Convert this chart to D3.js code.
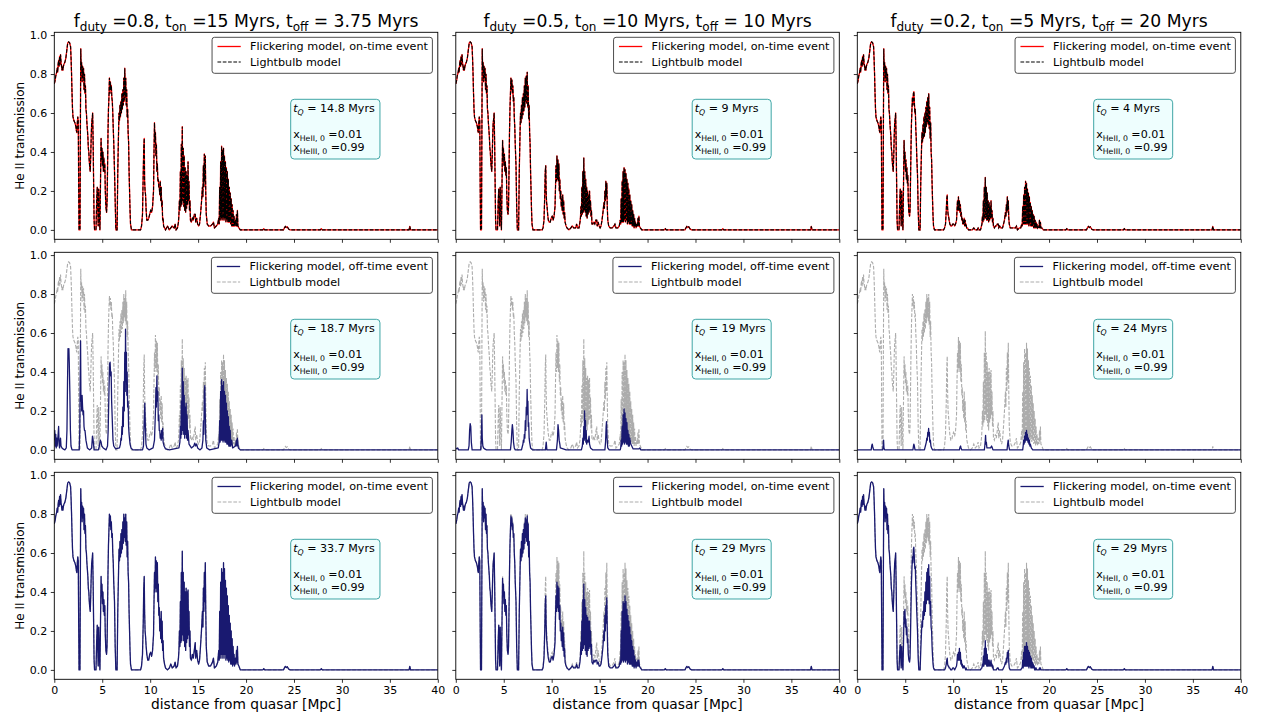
<!DOCTYPE html>
<html><head><meta charset="utf-8">
<script src="https://cdn.jsdelivr.net/npm/d3@7"></script>
<style>body{margin:0;background:#fff} svg{display:block} text{font-family:"DejaVu Sans",sans-serif}</style>
</head><body><svg id="chart" width="1262" height="717"></svg>
<script>
// ---------------- data ----------------
const distanceTicks = [0,5,10,15,20,25,30,35,40];
const transmissionTicks = [0,0.2,0.4,0.6,0.8,1.0];
const dutyValues = ["0.8","0.5","0.2"];
const onTimes = ["15","10","5"];
const offTimes = ["3.75","10","20"];
const tQRow1 = ["14.8","9","4"];
const tQRow2 = ["18.7","19","24"];
const tQRow3 = ["33.7","29","29"];
const xHeII0 = "0.01", xHeIII0 = "0.99";

// shared near-zone segment (0 - 4.2 Mpc)
const nearShared = [[0,0.75],[0.05,0.76],[0.1,0.77],[0.15,0.79],[0.2,0.8],[0.25,0.81],[0.3,0.83],[0.35,0.81],[0.4,0.85],[0.45,0.87],[0.5,0.84],[0.55,0.89],[0.6,0.85],[0.65,0.9],[0.7,0.86],[0.75,0.84],[0.8,0.82],[0.85,0.84],[0.9,0.82],[0.95,0.84],[1.0,0.85],[1.1,0.86],[1.2,0.88],[1.3,0.92],[1.4,0.96],[1.5,0.965],[1.6,0.96],[1.7,0.94],[1.75,0.88],[1.8,0.8],[1.85,0.7],[1.9,0.62],[1.95,0.58],[2.05,0.56],[2.15,0.55],[2.25,0.53],[2.3,0.51],[2.35,0.5],[2.4,0.55],[2.45,0.58],[2.5,0.56],[2.55,0.2],[2.58,0],[2.68,0],[2.72,0.5],[2.76,0.93],[2.8,0.82],[2.85,0.86],[2.9,0.76],[2.95,0.84],[3.0,0.78],[3.05,0.83],[3.1,0.72],[3.15,0.8],[3.2,0.7],[3.25,0.74],[3.3,0.62],[3.35,0.6],[3.4,0.55],[3.5,0.48],[3.55,0.42],[3.6,0.4],[3.65,0.35],[3.7,0.32],[3.75,0.3],[3.8,0.38],[3.85,0.48],[3.9,0.55],[3.95,0.57],[4.0,0.6],[4.05,0.45],[4.1,0.25],[4.15,0.05],[4.2,0]];

// far-zone segment (19.4 - 40 Mpc)
const tailShared = [[19.4,0],[21.75,0],[21.85,0.006],[21.95,0],[23.9,0],[24.0,0.01],[24.1,0.018],[24.2,0.012],[24.3,0.016],[24.45,0.004],[24.6,0],[27.75,0],[27.85,0.006],[27.95,0],[37.0,0],[37.08,0.018],[37.16,0],[40,0]];

// distances of the middle zone (4.2 - 19.4 Mpc)
const midX = [
4.2,4.35,4.42,4.48,4.54,4.58,4.63,4.7,4.76,4.82,
4.88,4.92,4.97,5.02,5.07,5.12,5.17,5.22,5.27,5.32,
5.38,5.45,5.5,5.55,5.6,5.65,5.7,5.75,5.8,5.85,
5.9,5.95,6.0,6.05,6.1,6.15,6.2,6.28,6.35,6.42,
6.55,6.62,6.7,6.75,6.8,6.85,6.9,6.95,7.0,7.05,
7.1,7.15,7.2,7.25,7.3,7.35,7.4,7.45,7.5,7.55,
7.6,7.65,7.7,7.75,7.8,7.85,7.9,7.95,8.05,9.0,
9.1,9.2,9.28,9.33,9.38,9.42,9.47,9.52,9.58,9.65,
9.75,9.85,9.95,10.05,10.15,10.25,10.35,10.4,10.45,10.5,
10.55,10.6,10.65,10.7,10.75,10.8,10.85,10.9,10.95,11.0,
11.05,11.1,11.15,11.2,11.25,11.3,11.35,11.4,11.5,11.6,
11.8,12.0,12.15,12.3,12.5,12.6,12.7,12.85,12.95,13.0,
13.05,13.1,13.15,13.2,13.25,13.3,13.35,13.4,13.45,13.5,
13.55,13.6,13.65,13.7,13.75,13.8,13.85,13.9,13.95,14.0,
14.05,14.1,14.15,14.2,14.3,14.4,14.5,14.6,14.7,14.75,
14.85,14.95,15.05,15.15,15.25,15.35,15.45,15.5,15.55,15.6,
15.65,15.7,15.75,15.8,15.85,15.95,16.1,16.3,16.5,16.6,
16.7,16.9,17.05,17.15,17.2,17.25,17.3,17.35,17.4,17.45,
17.5,17.55,17.6,17.65,17.7,17.75,17.8,17.85,17.9,17.95,
18.0,18.05,18.1,18.15,18.2,18.25,18.3,18.35,18.4,18.45,
18.5,18.55,18.6,18.65,18.7,18.75,18.8,18.9,18.95,19.0,
19.05,19.1,19.15,19.25,19.4];

// lightbulb, t_Q = 14.8 Myr
const lb148Y = [
0,0,0.15,0.22,0.1,0.02,0.21,0.08,0,0.25,
0.47,0.36,0.42,0.33,0.4,0.3,0.37,0.3,0.34,0.2,
0.12,0.09,0.14,0.3,0.5,0.62,0.68,0.78,0.7,0.76,
0.72,0.74,0.68,0.66,0.6,0.52,0.45,0.3,0.15,0,
0,0.3,0.5,0.6,0.56,0.64,0.58,0.66,0.6,0.7,
0.62,0.72,0.64,0.78,0.66,0.83,0.68,0.78,0.64,0.72,
0.58,0.62,0.5,0.45,0.3,0.2,0.1,0.03,0,0,
0.02,0.08,0.3,0.42,0.47,0.25,0.2,0.18,0.1,0.05,
0.05,0.06,0.08,0.1,0.09,0.12,0.2,0.4,0.55,0.45,
0.5,0.38,0.44,0.3,0.34,0.25,0.26,0.22,0.22,0.18,
0.25,0.15,0.22,0.12,0.15,0.05,0.06,0.02,0.01,0,
0.02,0,0.01,0.02,0.01,0.03,0,0.01,0.04,0.08,
0.15,0.1,0.3,0.12,0.44,0.13,0.53,0.15,0.42,0.12,
0.38,0.1,0.32,0.09,0.3,0.11,0.28,0.13,0.35,0.15,
0.25,0.1,0.15,0.05,0.04,0.06,0.05,0.08,0.08,0.04,
0.06,0.03,0.02,0.03,0.08,0.14,0.22,0.17,0.33,0.22,
0.39,0.25,0.38,0.18,0.08,0.03,0.02,0.02,0.03,0.04,
0.01,0.02,0.03,0.06,0.03,0.22,0.05,0.35,0.06,0.43,
0.05,0.41,0.06,0.42,0.05,0.38,0.06,0.35,0.04,0.32,
0.05,0.3,0.04,0.26,0.04,0.22,0.04,0.19,0.03,0.16,
0.02,0.13,0.02,0.1,0.02,0.07,0.02,0.05,0.02,0.08,
0.02,0.1,0.02,0.01,0];

// lightbulb, t_Q = 9 Myr
const lb9Y = [
0,0,0.14,0.21,0.09,0.02,0.22,0.08,0,0.24,
0.46,0.36,0.42,0.33,0.39,0.3,0.35,0.28,0.32,0.18,
0.1,0.08,0.12,0.3,0.5,0.62,0.7,0.78,0.72,0.77,
0.7,0.74,0.66,0.68,0.58,0.53,0.44,0.33,0.12,0,
0,0.3,0.5,0.6,0.55,0.64,0.57,0.68,0.59,0.7,
0.61,0.74,0.63,0.78,0.66,0.79,0.65,0.81,0.63,0.74,
0.57,0.64,0.5,0.44,0.3,0.2,0.1,0.03,0,0,
0.01,0.05,0.18,0.3,0.33,0.2,0.14,0.12,0.08,0.05,
0.04,0.04,0.06,0.07,0.05,0.07,0.12,0.22,0.33,0.25,
0.38,0.26,0.36,0.25,0.34,0.2,0.26,0.16,0.2,0.12,
0.16,0.1,0.18,0.08,0.15,0.06,0.09,0.04,0.02,0.01,
0,0.01,0.02,0.01,0.01,0.03,0.01,0.01,0.04,0.06,
0.12,0.07,0.22,0.08,0.3,0.09,0.37,0.1,0.3,0.09,
0.26,0.07,0.22,0.06,0.2,0.08,0.18,0.09,0.2,0.1,
0.15,0.07,0.1,0.03,0.03,0.04,0.03,0.05,0.05,0.02,
0.04,0.02,0.01,0.02,0.05,0.09,0.14,0.11,0.2,0.15,
0.25,0.17,0.24,0.12,0.05,0.02,0.01,0.01,0.02,0.03,
0.01,0.01,0.02,0.05,0.03,0.16,0.04,0.25,0.04,0.3,
0.04,0.32,0.05,0.31,0.04,0.29,0.05,0.26,0.03,0.24,
0.04,0.21,0.03,0.18,0.03,0.15,0.03,0.13,0.02,0.1,
0.02,0.08,0.01,0.06,0.02,0.04,0.01,0.03,0.02,0.06,
0.02,0.07,0.02,0.01,0];

// lightbulb, t_Q = 4 Myr
const lb4Y = [
0,0,0.14,0.21,0.09,0.02,0.2,0.07,0,0.23,
0.46,0.35,0.4,0.3,0.36,0.26,0.32,0.24,0.28,0.15,
0.09,0.07,0.1,0.25,0.42,0.55,0.62,0.68,0.64,0.7,
0.71,0.66,0.6,0.62,0.52,0.47,0.38,0.28,0.1,0,
0,0.25,0.42,0.5,0.45,0.54,0.47,0.58,0.48,0.6,
0.5,0.63,0.53,0.66,0.55,0.68,0.54,0.7,0.52,0.63,
0.47,0.55,0.4,0.36,0.24,0.15,0.07,0.02,0,0,
0.01,0.03,0.1,0.16,0.18,0.11,0.08,0.07,0.05,0.03,
0.02,0.02,0.03,0.03,0.02,0.03,0.05,0.1,0.15,0.1,
0.17,0.1,0.15,0.09,0.13,0.07,0.09,0.05,0.06,0.03,
0.05,0.03,0.06,0.02,0.05,0.02,0.03,0.01,0.01,0,
0,0,0.01,0,0,0.01,0,0,0.02,0.03,
0.07,0.04,0.15,0.05,0.22,0.06,0.27,0.06,0.22,0.05,
0.19,0.05,0.15,0.04,0.14,0.05,0.12,0.06,0.15,0.06,
0.1,0.04,0.06,0.02,0.01,0.02,0.02,0.03,0.03,0.01,
0.02,0.01,0.01,0.01,0.03,0.05,0.09,0.07,0.13,0.09,
0.17,0.1,0.15,0.06,0.03,0.01,0.01,0.01,0.01,0.02,
0,0.01,0.01,0.03,0.02,0.12,0.03,0.18,0.03,0.22,
0.03,0.25,0.03,0.24,0.03,0.21,0.03,0.19,0.02,0.17,
0.03,0.14,0.02,0.12,0.02,0.1,0.02,0.08,0.01,0.07,
0.01,0.05,0.01,0.04,0.01,0.03,0.01,0.02,0.01,0.05,
0.01,0.04,0.01,0.01,0];

// lightbulb, t_Q ~ 19 Myr
const lb19Y = [
0,0,0.15,0.23,0.1,0.02,0.22,0.08,0,0.25,
0.48,0.38,0.44,0.34,0.4,0.3,0.36,0.28,0.33,0.18,
0.1,0.08,0.12,0.3,0.5,0.64,0.72,0.79,0.74,0.78,
0.72,0.76,0.68,0.7,0.6,0.55,0.45,0.35,0.12,0,
0,0.3,0.5,0.62,0.56,0.66,0.58,0.7,0.6,0.72,
0.62,0.76,0.65,0.8,0.68,0.78,0.66,0.82,0.64,0.76,
0.58,0.66,0.5,0.45,0.3,0.2,0.1,0.03,0,0,
0.02,0.08,0.25,0.42,0.49,0.3,0.2,0.17,0.12,0.08,
0.05,0.05,0.08,0.09,0.07,0.1,0.18,0.35,0.5,0.4,
0.59,0.42,0.56,0.4,0.55,0.35,0.44,0.28,0.32,0.2,
0.26,0.16,0.28,0.14,0.24,0.1,0.14,0.06,0.03,0.01,
0,0.01,0.03,0.01,0.02,0.04,0.01,0.02,0.05,0.09,
0.18,0.12,0.33,0.14,0.46,0.15,0.57,0.17,0.47,0.14,
0.42,0.12,0.37,0.1,0.38,0.13,0.36,0.15,0.37,0.16,
0.27,0.11,0.18,0.06,0.05,0.07,0.05,0.09,0.12,0.05,
0.08,0.04,0.03,0.04,0.1,0.17,0.25,0.2,0.35,0.26,
0.42,0.3,0.45,0.25,0.1,0.03,0.02,0.02,0.03,0.05,
0.01,0.02,0.03,0.08,0.04,0.26,0.05,0.4,0.07,0.46,
0.05,0.45,0.07,0.49,0.05,0.46,0.07,0.41,0.04,0.37,
0.05,0.34,0.04,0.3,0.04,0.25,0.04,0.21,0.03,0.18,
0.03,0.14,0.02,0.11,0.03,0.07,0.02,0.05,0.03,0.09,
0.03,0.11,0.03,0.02,0];

// lightbulb, long t_Q (24 - 34 Myr)
const lbLongY = [
0,0,0.15,0.23,0.1,0.02,0.22,0.08,0,0.25,
0.48,0.38,0.44,0.34,0.4,0.3,0.36,0.28,0.33,0.18,
0.1,0.08,0.12,0.3,0.5,0.64,0.72,0.8,0.74,0.79,
0.72,0.76,0.68,0.7,0.6,0.55,0.45,0.35,0.12,0,
0,0.3,0.5,0.62,0.56,0.66,0.58,0.7,0.6,0.72,
0.62,0.76,0.65,0.8,0.68,0.78,0.66,0.8,0.64,0.76,
0.58,0.66,0.5,0.45,0.3,0.2,0.1,0.03,0,0,
0.02,0.08,0.25,0.42,0.48,0.3,0.2,0.17,0.12,0.08,
0.05,0.05,0.08,0.09,0.07,0.1,0.18,0.35,0.5,0.4,
0.58,0.42,0.56,0.4,0.55,0.35,0.44,0.28,0.32,0.2,
0.26,0.16,0.3,0.14,0.25,0.1,0.15,0.06,0.03,0.01,
0,0.01,0.03,0.01,0.02,0.04,0.01,0.02,0.06,0.1,
0.2,0.12,0.35,0.14,0.5,0.15,0.61,0.18,0.5,0.15,
0.45,0.12,0.4,0.1,0.42,0.14,0.4,0.16,0.41,0.18,
0.3,0.12,0.2,0.06,0.05,0.08,0.06,0.1,0.14,0.06,
0.1,0.05,0.03,0.05,0.12,0.2,0.3,0.22,0.42,0.3,
0.5,0.35,0.55,0.3,0.12,0.04,0.02,0.02,0.04,0.06,
0.01,0.02,0.04,0.1,0.05,0.3,0.06,0.45,0.08,0.52,
0.06,0.5,0.08,0.55,0.06,0.52,0.08,0.46,0.05,0.42,
0.06,0.38,0.05,0.33,0.04,0.28,0.05,0.24,0.03,0.2,
0.03,0.16,0.02,0.12,0.03,0.08,0.02,0.06,0.03,0.1,
0.04,0.12,0.03,0.02,0];

// flickering on-time, f_duty = 0.5, t_Q = 29 Myr
const onBY = [
0,0,0.15,0.23,0.1,0.02,0.22,0.08,0,0.25,
0.47,0.38,0.44,0.34,0.4,0.3,0.36,0.28,0.33,0.18,
0.1,0.08,0.12,0.3,0.5,0.64,0.72,0.79,0.74,0.78,
0.72,0.75,0.68,0.7,0.6,0.55,0.45,0.35,0.12,0,
0,0.3,0.5,0.62,0.56,0.66,0.58,0.7,0.6,0.72,
0.62,0.75,0.65,0.78,0.68,0.77,0.66,0.79,0.64,0.75,
0.58,0.66,0.5,0.45,0.3,0.2,0.1,0.03,0,0,
0.01,0.06,0.2,0.34,0.38,0.24,0.16,0.13,0.09,0.06,
0.04,0.04,0.06,0.07,0.05,0.08,0.14,0.27,0.38,0.3,
0.45,0.32,0.43,0.3,0.42,0.26,0.33,0.2,0.24,0.15,
0.2,0.12,0.22,0.1,0.19,0.07,0.11,0.04,0.02,0.01,
0,0.01,0.02,0.01,0.01,0.03,0.01,0.01,0.04,0.07,
0.14,0.08,0.25,0.1,0.36,0.11,0.44,0.13,0.36,0.1,
0.32,0.08,0.28,0.07,0.27,0.1,0.25,0.11,0.25,0.12,
0.2,0.08,0.13,0.04,0.03,0.05,0.04,0.05,0.05,0.03,
0.04,0.02,0.02,0.03,0.07,0.12,0.2,0.15,0.28,0.2,
0.33,0.24,0.37,0.2,0.08,0.02,0.01,0.01,0.02,0.03,
0.01,0.01,0.02,0.05,0.03,0.2,0.04,0.3,0.05,0.35,
0.04,0.34,0.05,0.38,0.04,0.35,0.05,0.31,0.03,0.28,
0.04,0.25,0.03,0.22,0.03,0.18,0.03,0.15,0.02,0.12,
0.02,0.1,0.01,0.07,0.02,0.05,0.01,0.04,0.02,0.05,
0.02,0.05,0.02,0.01,0];

// flickering on-time, f_duty = 0.2, t_Q = 29 Myr
const onCY = [
0,0,0.09,0.13,0.06,0.01,0.12,0.04,0,0.14,
0.3,0.24,0.31,0.22,0.26,0.18,0.22,0.14,0.16,0.08,
0.05,0.04,0.06,0.18,0.32,0.45,0.52,0.58,0.55,0.62,
0.63,0.58,0.52,0.53,0.44,0.38,0.3,0.2,0.06,0,
0,0.1,0.2,0.25,0.22,0.3,0.26,0.35,0.28,0.4,
0.3,0.45,0.34,0.5,0.36,0.52,0.36,0.54,0.34,0.48,
0.28,0.35,0.22,0.2,0.12,0.07,0.03,0.01,0,0,
0,0.01,0.03,0.05,0.06,0.03,0.02,0.02,0.01,0.01,
0,0,0.01,0.01,0,0.01,0.02,0.04,0.08,0.05,
0.09,0.05,0.11,0.05,0.09,0.03,0.05,0.02,0.03,0.01,
0.02,0.01,0.02,0.01,0.01,0,0.01,0,0,0,
0,0,0,0,0,0,0,0,0.01,0.01,
0.03,0.02,0.07,0.02,0.11,0.03,0.15,0.03,0.11,0.02,
0.08,0.02,0.05,0.02,0.05,0.02,0.04,0.02,0.05,0.02,
0.03,0.01,0.02,0,0,0,0,0.01,0.01,0,
0,0,0,0,0.01,0.02,0.04,0.03,0.06,0.04,
0.09,0.06,0.1,0.04,0.01,0,0,0,0,0,
0,0,0,0.01,0.01,0.05,0.01,0.09,0.02,0.12,
0.02,0.12,0.02,0.14,0.02,0.12,0.02,0.1,0.01,0.09,
0.02,0.07,0.01,0.06,0.01,0.04,0.01,0.03,0.01,0.02,
0,0.01,0,0.01,0,0,0,0,0,0.01,
0,0.01,0,0,0];

// flickering off-time events (row 2)
const offA = [[0,0.05],[0.05,0.1],[0.1,0.02],[0.15,0.08],[0.2,0.01],[0.25,0.06],[0.3,0.02],[0.35,0.05],[0.4,0.08],[0.45,0.12],[0.5,0.03],[0.55,0.01],[0.6,0.04],[0.65,0.06],[0.7,0.02],[0.8,0.01],[0.9,0.005],[1.1,0],[1.25,0.01],[1.32,0.1],[1.38,0.35],[1.43,0.52],[1.48,0.5],[1.52,0.52],[1.56,0.45],[1.62,0.3],[1.68,0.1],[1.74,0.02],[1.85,0],[2.6,0],[2.66,0.1],[2.7,0.35],[2.74,0.56],[2.78,0.25],[2.82,0.28],[2.86,0.2],[2.9,0.28],[2.95,0.22],[3.0,0.18],[3.05,0.2],[3.1,0.12],[3.15,0.1],[3.2,0.1],[3.3,0.05],[3.45,0.01],[3.7,0],[3.9,0.01],[3.98,0.07],[4.05,0.05],[4.15,0],[4.6,0],[4.7,0.02],[4.8,0.05],[4.88,0.04],[4.95,0.02],[5.1,0.01],[5.4,0],[5.55,0.02],[5.62,0.1],[5.7,0.3],[5.76,0.44],[5.82,0.45],[5.88,0.38],[5.93,0.4],[5.98,0.25],[6.05,0.15],[6.12,0.05],[6.2,0.02],[6.4,0.005],[6.8,0.01],[6.9,0.03],[6.95,0.06],[7.0,0.05],[7.05,0.12],[7.1,0.08],[7.15,0.22],[7.2,0.12],[7.25,0.35],[7.3,0.2],[7.35,0.5],[7.4,0.3],[7.43,0.62],[7.48,0.35],[7.52,0.5],[7.56,0.28],[7.6,0.4],[7.65,0.22],[7.7,0.25],[7.75,0.12],[7.8,0.08],[7.9,0.03],[8.0,0.01],[8.2,0],[9.2,0],[9.3,0.02],[9.38,0.15],[9.44,0.24],[9.5,0.12],[9.56,0.03],[9.65,0.01],[9.9,0],[10.3,0.01],[10.45,0.05],[10.55,0.2],[10.6,0.32],[10.65,0.22],[10.7,0.38],[10.75,0.25],[10.8,0.3],[10.85,0.15],[10.9,0.18],[10.95,0.1],[11.0,0.1],[11.05,0.06],[11.1,0.08],[11.15,0.05],[11.2,0.1],[11.25,0.06],[11.3,0.11],[11.35,0.04],[11.45,0.02],[11.6,0.005],[12.0,0],[13.0,0.01],[13.1,0.04],[13.15,0.12],[13.2,0.06],[13.25,0.25],[13.3,0.08],[13.35,0.42],[13.4,0.1],[13.45,0.35],[13.5,0.08],[13.55,0.28],[13.6,0.06],[13.65,0.22],[13.7,0.08],[13.75,0.24],[13.8,0.06],[13.85,0.18],[13.9,0.05],[13.95,0.1],[14.05,0.03],[14.3,0.01],[14.55,0.02],[14.65,0.035],[14.75,0.02],[14.85,0.03],[14.95,0.01],[15.2,0],[15.4,0.01],[15.5,0.05],[15.55,0.15],[15.6,0.08],[15.65,0.3],[15.7,0.33],[15.75,0.18],[15.8,0.05],[15.9,0.01],[16.2,0],[17.1,0.01],[17.2,0.04],[17.25,0.15],[17.3,0.04],[17.35,0.3],[17.4,0.05],[17.45,0.36],[17.5,0.05],[17.55,0.33],[17.6,0.04],[17.65,0.35],[17.7,0.05],[17.75,0.3],[17.8,0.04],[17.85,0.28],[17.9,0.04],[17.95,0.24],[18.0,0.03],[18.05,0.2],[18.1,0.03],[18.15,0.17],[18.2,0.02],[18.25,0.12],[18.3,0.02],[18.35,0.1],[18.4,0.02],[18.5,0.05],[18.6,0.01],[18.9,0.02],[19.0,0.05],[19.05,0.02],[19.1,0.06],[19.2,0.01],[19.4,0],[40,0]];

const offB = [[0,0.01],[0.1,0.005],[0.2,0.01],[0.3,0],[1.3,0],[1.38,0.02],[1.44,0.1],[1.5,0.135],[1.56,0.12],[1.62,0.04],[1.7,0],[2.6,0],[2.66,0.05],[2.72,0.18],[2.76,0.06],[2.82,0.02],[2.9,0.01],[3.0,0.005],[3.2,0],[5.7,0],[5.78,0.04],[5.85,0.1],[5.9,0.13],[5.96,0.1],[6.02,0.04],[6.1,0.01],[6.2,0],[6.85,0],[6.95,0.02],[7.0,0.03],[7.05,0.05],[7.1,0.04],[7.15,0.08],[7.2,0.06],[7.25,0.15],[7.3,0.1],[7.35,0.22],[7.4,0.18],[7.44,0.31],[7.48,0.2],[7.52,0.25],[7.56,0.12],[7.6,0.14],[7.65,0.06],[7.7,0.04],[7.8,0.01],[8.0,0],[9.35,0],[9.43,0.04],[9.5,0],[10.5,0],[10.6,0.05],[10.66,0.13],[10.72,0.1],[10.78,0.05],[10.85,0.03],[10.9,0.01],[11.2,0.005],[11.5,0],[13.1,0],[13.2,0.02],[13.25,0.06],[13.3,0.03],[13.35,0.12],[13.4,0.05],[13.43,0.2],[13.48,0.06],[13.52,0.15],[13.56,0.04],[13.6,0.1],[13.65,0.03],[13.7,0.05],[13.8,0.04],[13.9,0.07],[13.95,0.03],[14.05,0.01],[14.3,0],[15.55,0],[15.62,0.04],[15.68,0.12],[15.72,0.145],[15.78,0.06],[15.85,0.01],[16.0,0],[17.15,0],[17.2,0.01],[17.25,0.05],[17.3,0.02],[17.35,0.12],[17.4,0.03],[17.45,0.18],[17.5,0.04],[17.55,0.21],[17.6,0.03],[17.65,0.19],[17.7,0.04],[17.75,0.16],[17.8,0.03],[17.85,0.14],[17.9,0.03],[17.95,0.1],[18.0,0.02],[18.05,0.08],[18.1,0.02],[18.15,0.06],[18.25,0.03],[18.35,0.02],[18.5,0.005],[19.1,0.005],[19.2,0.01],[19.3,0],[40,0]];

const offC = [[0,0],[1.45,0],[1.5,0.02],[1.56,0.03],[1.62,0.015],[1.7,0],[2.65,0],[2.7,0.02],[2.74,0.05],[2.78,0.01],[2.85,0],[5.8,0],[5.86,0.02],[5.9,0.03],[5.95,0.02],[6.02,0],[7.0,0],[7.05,0.01],[7.1,0.02],[7.15,0.03],[7.2,0.04],[7.25,0.06],[7.3,0.05],[7.35,0.09],[7.4,0.08],[7.44,0.11],[7.48,0.07],[7.52,0.09],[7.56,0.04],[7.62,0.05],[7.68,0.02],[7.75,0.01],[7.85,0],[10.65,0],[10.72,0.015],[10.77,0.02],[10.82,0.01],[10.9,0],[13.25,0],[13.3,0.02],[13.35,0.05],[13.38,0.075],[13.42,0.03],[13.46,0.04],[13.52,0.01],[13.9,0.01],[14.0,0.02],[14.05,0.015],[14.15,0],[15.62,0],[15.68,0.03],[15.74,0.05],[15.8,0.02],[15.88,0],[17.25,0],[17.3,0.02],[17.35,0.05],[17.4,0.03],[17.45,0.07],[17.5,0.04],[17.55,0.09],[17.6,0.05],[17.65,0.1],[17.7,0.05],[17.75,0.08],[17.8,0.04],[17.85,0.06],[17.9,0.03],[17.95,0.05],[18.0,0.02],[18.05,0.03],[18.15,0.01],[18.3,0],[40,0]];

// ---------------- build series ----------------
function buildSeries(midY){
  return nearShared.concat(midX.map((x,i)=>[x, midY[i]]), tailShared);
}
const lb148 = buildSeries(lb148Y), lb9 = buildSeries(lb9Y), lb4 = buildSeries(lb4Y);
const lb19 = buildSeries(lb19Y), lbLong = buildSeries(lbLongY);
const onB = buildSeries(onBY), onC = buildSeries(onCY);

const rows = [
  {event:"on-time", tQ:tQRow1, main:[lb148,lb9,lb4], ref:[lb148,lb9,lb4], mainColor:"#ff0000", refColor:"#000000", refOnTop:true},
  {event:"off-time", tQ:tQRow2, main:[offA,offB,offC], ref:[lb19,lb19,lbLong], mainColor:"#191970", refColor:"#acacac", refOnTop:false},
  {event:"on-time", tQ:tQRow3, main:[lbLong,onB,onC], ref:[lbLong,lbLong,lbLong], mainColor:"#191970", refColor:"#acacac", refOnTop:false}
];

// ---------------- layout ----------------
const svg = d3.select("#chart");
const W = 383.5, H = 207;
const colLeft = [54.3, 455.8, 857.3];
const rowTop = [32.3, 252.3, 472.3];
const yDomain = [-0.0483, 1.0143];
const FONT = "DejaVu Sans";

function rich(sel, parts, fs){
  let inSub = false;
  const shift = 0.24*fs;
  parts.forEach(p=>{
    const t = sel.append("tspan").text(p.t);
    if (p.it) t.attr("font-style","italic");
    if (p.sub){
      t.attr("font-size", (fs*0.7).toFixed(2));
      if (!inSub) t.attr("dy", shift);
      inSub = true;
    } else {
      if (inSub) t.attr("dy", -shift);
      inSub = false;
    }
  });
}

let clipId = 0;
rows.forEach((row, r)=>{
  [0,1,2].forEach(c=>{
    const g = svg.append("g").attr("transform", `translate(${colLeft[c]},${rowTop[r]})`);
    const x = d3.scaleLinear().domain([0,40]).range([0,W]);
    const y = d3.scaleLinear().domain(yDomain).range([H,0]);
    const id = "clip"+(clipId++);
    g.append("clipPath").attr("id", id).append("rect").attr("width", W).attr("height", H);
    const plot = g.append("g").attr("clip-path", `url(#${id})`);
    const line = d3.line().x(d=>x(d[0])).y(d=>y(d[1]));

    const drawMain = ()=> plot.append("path").datum(row.main[c]).attr("d", line)
        .attr("fill","none").attr("stroke", row.mainColor).attr("stroke-width", 1.3).attr("stroke-linejoin","round");
    const drawRef = ()=> plot.append("path").datum(row.ref[c]).attr("d", line)
        .attr("fill","none").attr("stroke", row.refColor).attr("stroke-width", 1.1)
        .attr("stroke-dasharray","3.7,1.6");
    if (row.refOnTop){ drawMain(); drawRef(); } else { drawRef(); drawMain(); }

    // axes
    const xa = g.append("g").attr("transform", `translate(0,${H})`)
      .call(d3.axisBottom(x).tickValues(distanceTicks).tickSize(3.5).tickPadding(3.5)
        .tickFormat(r===2 ? d3.format("d") : ()=>""));
    xa.select(".domain").remove();
    xa.attr("font-family", FONT).attr("font-size", 11);
    xa.selectAll("line").attr("stroke","#000").attr("stroke-width",0.8);
    xa.selectAll("text").attr("fill","#000");

    const ya = g.append("g")
      .call(d3.axisLeft(y).tickValues(transmissionTicks).tickSize(3.5).tickPadding(3.5)
        .tickFormat(c===0 ? d3.format(".1f") : ()=>""));
    ya.select(".domain").remove();
    ya.attr("font-family", FONT).attr("font-size", 11);
    ya.selectAll("line").attr("stroke","#000").attr("stroke-width",0.8);
    ya.selectAll("text").attr("fill","#000");

    g.append("rect").attr("width", W).attr("height", H).attr("fill","none")
      .attr("stroke","#000").attr("stroke-width",0.9);

    // legend
    const lg = g.append("g");
    const lfs = 11.2;
    const t1 = lg.append("text").attr("font-size", lfs).attr("fill","#000")
      .text(`Flickering model, ${row.event} event`);
    const t2 = lg.append("text").attr("font-size", lfs).attr("fill","#000").text("Lightbulb model");
    const tw = Math.max(t1.node().getComputedTextLength(), t2.node().getComputedTextLength());
    const bw = tw + 38 + 4.5, bh = 36;
    const bx = W - 5.4 - bw, by = 5;
    lg.insert("rect", "text").attr("x", bx).attr("y", by).attr("width", bw).attr("height", bh)
      .attr("rx", 2.5).attr("fill","#fff").attr("stroke","#3a3a3a").attr("stroke-width",0.9);
    t1.attr("x", bx+38).attr("y", by+9.2).attr("dy","0.35em");
    t2.attr("x", bx+38).attr("y", by+24.7).attr("dy","0.35em");
    lg.append("line").attr("x1", bx+5.4).attr("x2", bx+28.7).attr("y1", by+9.2).attr("y2", by+9.2)
      .attr("stroke", row.mainColor).attr("stroke-width",1.3);
    lg.append("line").attr("x1", bx+5.4).attr("x2", bx+28.7).attr("y1", by+24.7).attr("y2", by+24.7)
      .attr("stroke", row.refColor).attr("stroke-width",1.1).attr("stroke-dasharray","3.7,1.6");

    // info box
    const ib = g.append("g");
    const ifs = 11.1;
    const bx2 = 236.4, by2 = 67;
    const l1 = ib.append("text").attr("font-size", ifs).attr("x", bx2+2.5).attr("y", by2+12.7);
    rich(l1, [{t:"t", it:true},{t:"Q", sub:true, it:true},{t:" = "+row.tQ[c]+" Myrs"}], ifs);
    const l3 = ib.append("text").attr("font-size", ifs).attr("x", bx2+2.5).attr("y", by2+39.2);
    rich(l3, [{t:"x"},{t:"HeII, 0", sub:true},{t:" ="+xHeII0}], ifs);
    const l4 = ib.append("text").attr("font-size", ifs).attr("x", bx2+2.5).attr("y", by2+52.2);
    rich(l4, [{t:"x"},{t:"HeIII, 0", sub:true},{t:" ="+xHeIII0}], ifs);
    const iw = Math.max(l1.node().getBBox().width, l3.node().getBBox().width, l4.node().getBBox().width);
    ib.insert("rect","text").attr("x", bx2).attr("y", by2).attr("width", iw + 7.5).attr("height", 59.7)
      .attr("rx", 3.5).attr("fill","#eefefe").attr("stroke","#3fa5a5").attr("stroke-width",1);
  });
});

// titles
[0,1,2].forEach(c=>{
  const cx = colLeft[c] + W/2;
  const t = svg.append("text").attr("x", cx).attr("y", 26.5).attr("text-anchor","middle")
    .attr("font-size", 17.2).attr("fill","#000");
  rich(t, [{t:"f"},{t:"duty", sub:true},{t:" =" + dutyValues[c] + ", t"},{t:"on", sub:true},
           {t:" =" + onTimes[c] + " Myrs, t"},{t:"off", sub:true},{t:" = " + offTimes[c] + " Myrs"}], 17.2);
  svg.append("text").attr("x", cx).attr("y", 704).attr("text-anchor","middle").attr("dy","0.35em")
    .attr("font-size", 13.8).attr("fill","#000").text("distance from quasar [Mpc]");
});
[0,1,2].forEach(r=>{
  const cy = rowTop[r] + H/2;
  svg.append("text").attr("transform", `translate(20,${cy}) rotate(-90)`).attr("text-anchor","middle")
    .attr("dy","0.35em").attr("font-size", 12).attr("fill","#000").text("He II transmission");
});
</script>
</body></html>
